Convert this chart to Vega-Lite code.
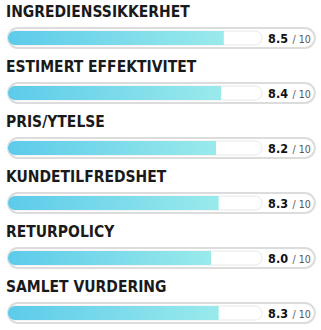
{
  "$schema": "https://vega.github.io/schema/vega-lite/v6.json",
  "width": 321,
  "height": 330,
  "autosize": {"type": "fit", "contains": "padding"},
  "padding": 0,
  "background": "white",
  "config": {"view": {"stroke": null}},
  "data": {"values": [
    {"name": "INGREDIENSSIKKERHET", "score": 8.5, "label": "8.5", "max": "/ 10"},
    {"name": "ESTIMERT EFFEKTIVITET", "score": 8.4, "label": "8.4", "max": "/ 10"},
    {"name": "PRIS/YTELSE", "score": 8.2, "label": "8.2", "max": "/ 10"},
    {"name": "KUNDETILFREDSHET", "score": 8.3, "label": "8.3", "max": "/ 10"},
    {"name": "RETURPOLICY", "score": 8.0, "label": "8.0", "max": "/ 10"},
    {"name": "SAMLET VURDERING", "score": 8.3, "label": "8.3", "max": "/ 10"}
  ]},
  "encoding": {
    "y": {"field": "name", "type": "nominal", "sort": null, "axis": null,
          "scale": {"paddingInner": 0, "paddingOuter": 0}}
  },
  "layer": [
    {
      "mark": {"type": "bar", "height": 20, "yOffset": 10.5, "xOffset": -3, "cornerRadius": 10, "fill": "white", "stroke": "#dcdcdc", "strokeWidth": 2},
      "encoding": {
        "x": {"datum": 12.2, "type": "quantitative", "scale": {"domain": [0, 10], "range": [8, 262], "nice": false}, "axis": null}
      }
    },
    {
      "mark": {"type": "bar", "height": 14, "yOffset": 10.5, "cornerRadius": 7, "fill": "white", "stroke": "#e8e8e8", "strokeWidth": 1},
      "encoding": {
        "x": {"datum": 10, "type": "quantitative"}
      }
    },
    {
      "mark": {"type": "bar", "height": 14, "yOffset": 10.5, "cornerRadiusTopLeft": 7, "cornerRadiusBottomLeft": 7,
               "color": {"gradient": "linear", "x1": 0, "y1": 0, "x2": 1, "y2": 0,
                         "stops": [{"offset": 0, "color": "#5ccbea"}, {"offset": 1, "color": "#9aeaeb"}]}},
      "encoding": {
        "x": {"field": "score", "type": "quantitative"}
      }
    },
    {
      "mark": {"type": "text", "align": "left", "baseline": "middle", "yOffset": -15.5, "font": "DejaVu Sans Condensed", "fontSize": 15.5, "fontWeight": "bold", "color": "#1a1a1a"},
      "encoding": {
        "x": {"datum": -0.08, "type": "quantitative"},
        "text": {"field": "name"}
      }
    },
    {
      "mark": {"type": "text", "align": "left", "baseline": "middle", "yOffset": 11, "font": "DejaVu Sans Condensed", "fontSize": 12.5, "fontWeight": "bold", "color": "#111111"},
      "encoding": {
        "x": {"datum": 10.24, "type": "quantitative"},
        "text": {"field": "label"}
      }
    },
    {
      "mark": {"type": "text", "align": "left", "baseline": "middle", "yOffset": 12, "font": "DejaVu Sans Condensed", "fontSize": 10.5, "color": "#555555"},
      "encoding": {
        "x": {"datum": 11.2, "type": "quantitative"},
        "text": {"field": "max"}
      }
    }
  ]
}
